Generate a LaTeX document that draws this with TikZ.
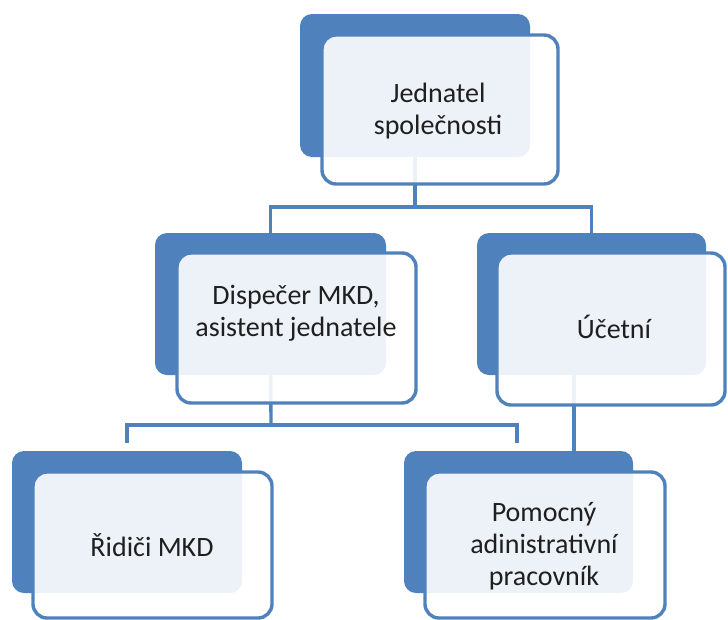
\documentclass[tikz,border=0pt]{standalone}
\usepackage{fontspec}
\setmainfont{Carlito}
\definecolor{sblue}{HTML}{4F81BD}
\pgfdeclarelayer{bg}
\pgfsetlayers{bg,main}
\tikzset{
  backbox/.style={fill=sblue, rounded corners=12pt, inner sep=0pt},
  frontbox/.style={draw=sblue, line width=3.4pt, fill=white, fill opacity=0.9, rounded corners=14pt, inner sep=0pt},
  conn/.style={draw=sblue, line width=3.4pt},
  lbl/.style={font=\fontsize{28}{32}\selectfont, align=center, text=black!88, inner sep=0pt}
}
\begin{document}
\begin{tikzpicture}[x=1pt,y=-1pt]
\useasboundingbox (0,0) rectangle (728,619);
% back boxes
\node[backbox, minimum width=230pt, minimum height=143pt] (jb) at (415,85.5) {};
\node[backbox, minimum width=231pt, minimum height=142pt] (db) at (270.5,304) {};
\node[backbox, minimum width=229pt, minimum height=142pt] (ub) at (591.5,304) {};
\node[backbox, minimum width=230pt, minimum height=142pt] (rb) at (127,522) {};
\node[backbox, minimum width=229pt, minimum height=142pt] (pb) at (518.5,522) {};
% connectors
\coordinate (jbus) at (415,207);
\coordinate (dbus) at (271,425);
\coordinate (r1) at (127,443);
\coordinate (p1) at (517,443);
\begin{pgfonlayer}{bg}
\draw[conn] (jb.center) -- (jbus);
\draw[conn] (db.center) |- (jbus) -| (ub.center);
\draw[conn] (db.center) -- (dbus);
\draw[conn] (r1) |- (dbus) -| (p1);
\draw[conn] ([xshift=-17.5pt]ub.center) -- ([xshift=-17.5pt]ub.center |- pb.center);
\end{pgfonlayer}
% front boxes
\node[frontbox, minimum width=236pt, minimum height=149pt] (jf) at (440,109.5) {};
\node[frontbox, minimum width=239pt, minimum height=150pt] (df) at (296.5,328) {};
\node[frontbox, minimum width=228pt, minimum height=152pt] (uf) at (611,329) {};
\node[frontbox, minimum width=239pt, minimum height=146pt] (rf) at (152.5,545) {};
\node[frontbox, minimum width=240pt, minimum height=146pt] (pf) at (545,545) {};
% labels
\node[lbl] (jt) at (438,111) {Jednatel\\společnosti};
\node[lbl] (dt) at (296,313) {Dispečer MKD,\\asistent jednatele};
\node[lbl] (ut) at (614,327) {Účetní};
\node[lbl] (rt) at (152,545) {Řidiči MKD};
\node[lbl] (pt) at (544,546) {Pomocný\\adinistrativní\\pracovník};
\end{tikzpicture}
\end{document}
